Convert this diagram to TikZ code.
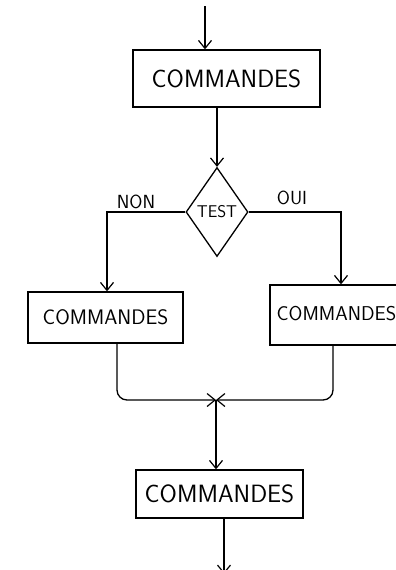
\documentclass[tikz,border=0pt]{standalone}
\usepackage{fontspec}
\setsansfont{Latin Modern Sans}
\usetikzlibrary{shapes.geometric,arrows.meta}
\begin{document}
\begin{tikzpicture}[x=1pt,y=-1pt,
  line width=1.3pt,
  arr/.style={-{Straight Barb[length=8pt,width=13pt,line width=1.2pt]}},
  box/.style={draw,rectangle,inner sep=0pt,font=\sffamily\fontsize{25}{27}\selectfont},
  lbl/.style={font=\sffamily\fontsize{19}{21}\selectfont,inner sep=0pt}]
\useasboundingbox (0,0) rectangle (396,570);
\clip (0,0) rectangle (396,570);
\node[box,minimum width=187pt,minimum height=57pt] (b1) at (226.5,78.5) {COMMANDES};
\node[draw,diamond,inner sep=0pt,minimum width=62pt,minimum height=89pt] (d) at (217,212) {};
\node[lbl,font=\sffamily\fontsize{17}{19}\selectfont] (dt) at (d.center) {TEST};
\node[box,minimum width=155pt,minimum height=51pt,font=\sffamily\fontsize{21}{23}\selectfont] (b2) at (105.5,317.5) {COMMANDES};
\node[box,minimum width=140pt,minimum height=60pt] (b3) at (340,315) {};
\node[lbl,anchor=west,font=\sffamily\fontsize{20}{22}\selectfont] (b3t) at (276,314) {COMMANDES};
\node[box,minimum width=167pt,minimum height=48pt] (b4) at (219.5,494) {COMMANDES};
\node[lbl] (non) at (136,202) {NON};
\node[lbl] (oui) at (292,198) {OUI};
\coordinate (top) at (205,6);
\coordinate (J) at (216,400);
\coordinate (bot) at (224,574);
\draw[arr] (top) -- (top |- b1.north);
\draw[arr] (b1.south -| d.north) -- (d.north);
\draw[arr] (d.west) -| (b2.north -| 107,0);
\draw[arr] (d.east) -| (b3.north -| 341,0);
\draw[arr,rounded corners=10pt] (b2.south -| 117,0) |- (J);
\draw[arr,rounded corners=10pt] (b3.south -| 333,0) |- (J);
\draw[arr] (J) -- (J |- b4.north);
\draw[arr] (b4.south -| 224,0) -- (bot);
\end{tikzpicture}
\end{document}
